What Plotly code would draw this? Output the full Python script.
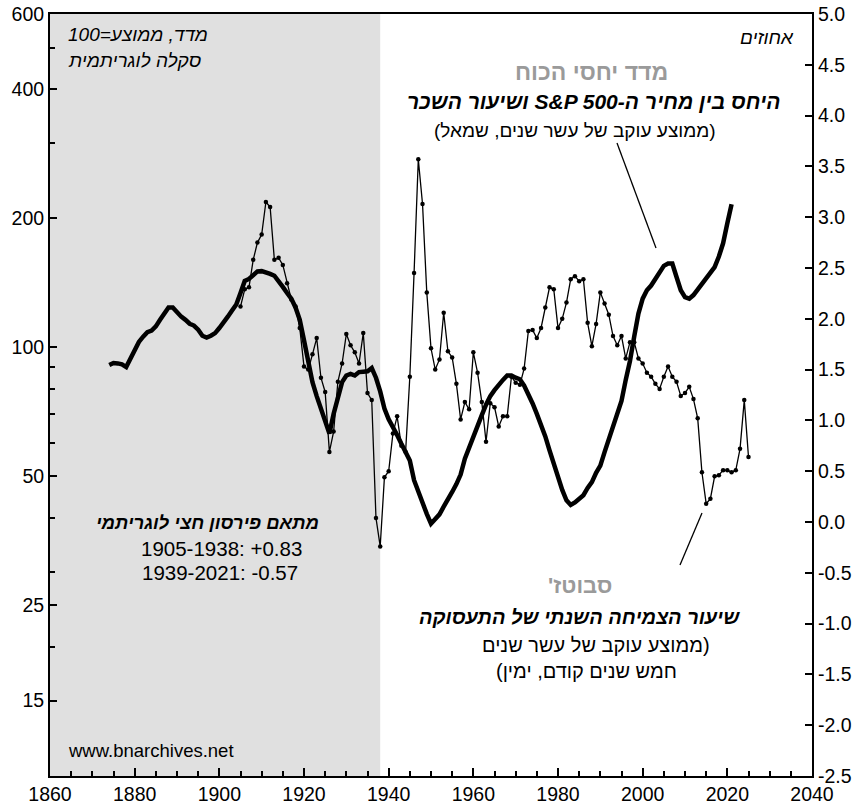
import math
import plotly.graph_objects as go

# ---------------- data ----------------
# Power index: S&P 500 price / wage rate, 10-yr trailing avg (left, log scale, avg=100)
power_years = list(range(1874, 2022))
power_vals = [
    91, 92, 91.8, 91.3, 90, 94, 99, 103, 106, 108.6,            # 1874-1883
    109.5, 112, 116, 120, 124, 124, 120.5, 118, 116, 113.6,     # 1884-1893
    112.5, 110, 106.5, 105.5, 106.5, 108, 111, 115, 118, 122,   # 1894-1903
    126, 134, 143, 144.5, 147, 150.5, 150.7, 150, 148.5, 147,   # 1904-1913
    143, 138.5, 134, 130, 124, 116, 104, 92, 83, 77,            # 1914-1923
    72, 68, 63, 70, 77, 83, 86, 86.8, 86, 87.6,                 # 1924-1933
    87.8, 88, 89.5, 85, 79, 72, 68, 65.5, 62.5, 59.6,           # 1934-1943
    57, 54.5, 49, 46, 43, 40.9, 38.8, 39.8, 40.8, 42.5,         # 1944-1953
    44, 46, 48, 50.5, 55, 58.5, 62, 66, 69.5, 73.5,             # 1954-1963
    77, 79.5, 82, 84, 86, 86, 85, 84.3, 81.5, 78,               # 1964-1973
    74, 70, 66, 62, 57.5, 53.5, 50, 46.5, 44, 42.9,             # 1974-1983
    43.5, 44.2, 45.2, 47, 48.5, 51, 53, 57, 61, 65,             # 1984-1993
    69, 75, 84, 93, 106, 120, 130, 136, 139.5, 145,             # 1994-2003
    150.5, 155, 157, 157, 146, 136, 131, 130, 132.5, 136.5,     # 2004-2013
    141, 145, 148.6, 154, 163, 175, 195, 216,                   # 2014-2021
]

# Sabotage: annual employment growth, 10-yr trailing avg, 5 yrs earlier (right, %)
emp_years = list(range(1905, 2026))
emp_vals = [
    2.12, 2.29, 2.31, 2.58, 2.75, 2.83, 3.15, 3.10, 2.58, 2.60,   # 1905-1914
    2.53, 2.35, 2.19, 2.12, 1.91, 1.53, 1.50, 1.65, 1.81, 1.42,   # 1915-1924
    1.28, 0.69, 0.89, 1.38, 1.56, 1.85, 1.74, 1.67, 1.56, 1.86,   # 1925-1934
    1.27, 1.20, 0.04, -0.24, 0.44, 0.50, 0.87, 1.04, 0.75, 0.69,  # 1935-1944
    1.43, 2.45, 3.57, 3.13, 2.26, 1.71, 1.50, 1.60, 2.06, 1.68,   # 1945-1954
    1.62, 1.36, 1.01, 1.18, 1.11, 1.67, 1.47, 1.18, 0.79, 1.17,   # 1955-1964
    1.13, 0.94, 1.04, 1.04, 1.43, 1.37, 1.35, 1.51, 1.88, 1.89,   # 1965-1974
    1.81, 1.91, 2.11, 2.31, 2.29, 1.91, 2.00, 2.16, 2.39, 2.42,   # 1975-1984
    2.37, 2.39, 1.96, 1.73, 1.95, 2.26, 2.15, 2.04, 1.83, 1.74,   # 1985-1994
    1.83, 1.61, 1.77, 1.77, 1.61, 1.56, 1.47, 1.43, 1.36, 1.31,   # 1995-2004
    1.43, 1.53, 1.43, 1.38, 1.24, 1.27, 1.33, 1.21, 1.02, 0.49,   # 2005-2014
    0.18, 0.23, 0.45, 0.46, 0.51, 0.51, 0.49, 0.51, 0.72, 1.20,   # 2015-2024
    0.64,                                                         # 2025
]

x_ticks = [1860, 1880, 1900, 1920, 1940, 1960, 1980, 2000, 2020, 2040]
left_ticks = [15, 25, 50, 100, 200, 400, 600]
left_minor = [20, 30, 40, 60, 70, 80, 90, 300, 500]
right_ticks = [-2.5, -2.0, -1.5, -1.0, -0.5, 0.0, 0.5, 1.0, 1.5, 2.0, 2.5, 3.0, 3.5, 4.0, 4.5, 5.0]
shade_start, shade_end = 1860, 1938

# ---------------- figure ----------------
FONT = "Liberation Sans, Arial, DejaVu Sans, sans-serif"
W, H = 865, 810
L, R, T, B = 50, 53, 14, 34
PW, PH = W - L - R, H - T - B

def px(x):
    return (x - L) / PW

def py(y):
    return (H - B - y) / PH

RLE, PDF = "\u202b", "\u202c"

def rtl(s):
    return RLE + s + PDF

fig = go.Figure()

fig.add_trace(go.Scatter(
    x=power_years, y=power_vals, mode="lines",
    line=dict(color="black", width=4.5), yaxis="y", hoverinfo="skip"))

fig.add_trace(go.Scatter(
    x=emp_years, y=emp_vals, mode="lines+markers",
    line=dict(color="black", width=1.3),
    marker=dict(color="black", size=4.5), yaxis="y2", hoverinfo="skip"))

fig.add_shape(type="rect", xref="x", yref="paper", x0=shade_start, x1=shade_end,
              y0=0, y1=1, fillcolor="#e0e0e0", line=dict(width=0), layer="below")

# pointer lines
fig.add_shape(type="line", xref="paper", yref="paper",
              x0=px(617), y0=py(143), x1=px(656), y1=py(248),
              line=dict(color="black", width=1.3))
fig.add_shape(type="line", xref="paper", yref="paper",
              x0=px(680), y0=py(565), x1=px(702), y1=py(513),
              line=dict(color="black", width=1.3))

def ann(text, x, y, size=20, color="black", anchor="center"):
    fig.add_annotation(text=text, xref="paper", yref="paper", x=px(x), y=py(y),
                       xanchor=anchor, yanchor="middle", showarrow=False,
                       font=dict(family=FONT, size=size, color=color))

ann("<i>" + rtl("מדד, ממוצע=100") + "</i>", 66, 35, size=19, anchor="left")
ann("<i>" + rtl("סקלה לוגריתמית") + "</i>", 66, 61, size=19, anchor="left")
ann("<i>" + rtl("אחוזים") + "</i>", 796, 37, size=19, anchor="right")

ann("<b>" + rtl("מדד יחסי הכוח") + "</b>", 591, 72, size=23, color="#9a9a9a")
ann("<b><i>" + rtl("היחס בין מחיר ה-S&P 500 ושיעור השכר") + "</i></b>", 593, 101, size=21)
ann(rtl("(ממוצע עוקב של עשר שנים, שמאל)"), 575, 130, size=19)

ann("<b><i>" + rtl("מתאם פירסון חצי לוגריתמי") + "</i></b>", 207, 522, size=18.5)
ann("1905-1938: +0.83", 221, 548, size=20.5)
ann("1939-2021: -0.57", 220, 572, size=20.5)

ann("<b>" + rtl("סבוטז'") + "</b>", 580, 585, size=22, color="#9a9a9a")
ann("<b><i>" + rtl("שיעור הצמיחה השנתי של התעסוקה") + "</i></b>", 579, 617, size=20)
ann(rtl("(ממוצע עוקב של עשר שנים"), 596, 645)
ann(rtl("חמש שנים קודם, ימין)"), 586, 671)

ann("www.bnarchives.net", 66, 750, size=18.5, anchor="left")

axis_common = dict(showline=True, linecolor="black", linewidth=2, showgrid=False,
                   zeroline=False, ticks="inside", tickcolor="black", tickwidth=1.5,
                   automargin=False,
                   tickfont=dict(family=FONT, size=19.5, color="black"))

fig.update_layout(
    width=W, height=H,
    margin=dict(l=L, r=R, t=T, b=B, pad=0, autoexpand=False),
    plot_bgcolor="white", paper_bgcolor="white",
    showlegend=False,
    font=dict(family=FONT, size=19, color="black"),
    xaxis=dict(range=[1860, 2040], tickmode="array", tickvals=x_ticks,
               ticktext=[str(v) for v in x_ticks], ticklen=8, mirror=True,
               minor=dict(dtick=5, tick0=1860, ticks="inside", ticklen=5,
                          tickwidth=1.5, tickcolor="black", showgrid=False),
               **axis_common),
    yaxis=dict(type="log", range=[1, math.log10(600)], tickmode="array",
               tickvals=left_ticks, ticktext=[str(v) for v in left_ticks], ticklen=7,
               minor=dict(tickmode="array", tickvals=left_minor, ticks="inside",
                          ticklen=5, tickwidth=1.5, tickcolor="black", showgrid=False),
               **axis_common),
    yaxis2=dict(overlaying="y", side="right", range=[-2.5, 5], tickmode="array",
                tickvals=right_ticks, ticktext=[f"{v:.1f}" for v in right_ticks],
                ticklen=7, **axis_common),
)

fig.write_html("out.html", config={"displayModeBar": False},
               post_script="document.body.style.margin='0';document.body.style.overflow='hidden';")
